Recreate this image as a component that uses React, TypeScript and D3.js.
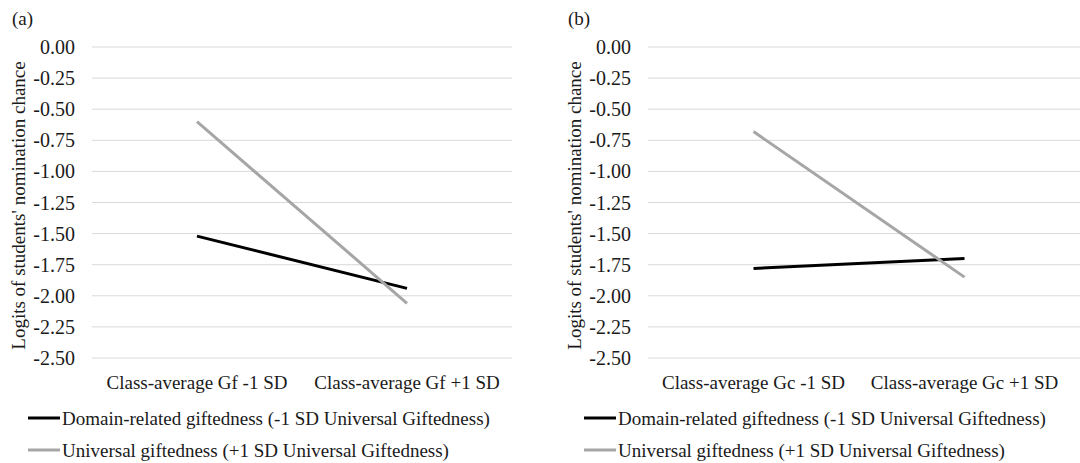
import React from "react";
import * as d3 from "d3";

const yTicks = [0, -0.25, -0.5, -0.75, -1, -1.25, -1.5, -1.75, -2, -2.25, -2.5];

const catsA = ["Class-average Gf -1 SD", "Class-average Gf +1 SD"];
const catsB = ["Class-average Gc -1 SD", "Class-average Gc +1 SD"];

// Domain-related giftedness (-1 SD Universal)
const domainA = [-1.52, -1.94];
const domainB = [-1.78, -1.7];
// Universal giftedness (+1 SD Universal)
const universalA = [-0.6, -2.06];
const universalB = [-0.68, -1.85];

const legendLabels = [
  "Domain-related giftedness (-1 SD Universal Giftedness)",
  "Universal giftedness (+1 SD Universal Giftedness)",
];
const seriesColors = ["#000000", "#a6a6a6"];

const FONT = "'Liberation Serif', 'Times New Roman', serif";

type PanelProps = {
  ox: number;
  tag: string;
  cats: string[];
  domain: number[];
  universal: number[];
  plotW: number;
  gridExtra: number;
};

const Panel = ({ ox, tag, cats, domain, universal, plotW, gridExtra }: PanelProps) => {
  const left = 92;
  const top = 47;
  const bottom = 358;
  const x = d3.scaleBand().domain(cats).range([left, left + plotW]);
  const y = d3.scaleLinear().domain([0, -2.5]).range([top, bottom]);
  const cx = (c: string) => (x(c) ?? 0) + x.bandwidth() / 2;
  const line = d3
    .line<number>()
    .x((_, i) => cx(cats[i]))
    .y((d) => y(d));

  return (
    <g transform={`translate(${ox},0)`} fontFamily={FONT} fill="#1a1a1a">
      <text x={12} y={25} fontSize={19}>
        {tag}
      </text>
      {yTicks.map((t) => (
        <g key={t}>
          <line
            x1={left}
            x2={left + plotW + gridExtra}
            y1={y(t)}
            y2={y(t)}
            stroke="#d9d9d9"
            strokeWidth={1}
          />
          <text x={75} y={y(t)} dy="0.35em" textAnchor="end" fontSize={20}>
            {d3.format(".2f")(t).replace("−", "-")}
          </text>
        </g>
      ))}
      <text
        transform={`translate(25,${(top + bottom) / 2 + 3}) rotate(-90)`}
        textAnchor="middle"
        fontSize={19}
      >
        Logits of students' nomination chance
      </text>
      {cats.map((c) => (
        <text key={c} x={cx(c)} y={389} textAnchor="middle" fontSize={19}>
          {c}
        </text>
      ))}
      <path d={line(domain) ?? ""} fill="none" stroke={seriesColors[0]} strokeWidth={3} />
      <path d={line(universal) ?? ""} fill="none" stroke={seriesColors[1]} strokeWidth={3} />
      {legendLabels.map((l, i) => (
        <g key={l} transform={`translate(0,${418 + i * 32})`}>
          <line x1={28} x2={60} y1={0} y2={0} stroke={seriesColors[i]} strokeWidth={3} />
          <text x={62} y={0} dy="0.35em" fontSize={19}>
            {l}
          </text>
        </g>
      ))}
    </g>
  );
};

export default function App() {
  return (
    <svg
      width={1080}
      height={463}
      style={{ position: "absolute", left: 0, top: 0, background: "#fff" }}
    >
      <Panel ox={0} tag="(a)" cats={catsA} domain={domainA} universal={universalA} plotW={420} gridExtra={0} />
      <Panel ox={556} tag="(b)" cats={catsB} domain={domainB} universal={universalB} plotW={422} gridExtra={20} />
    </svg>
  );
}
